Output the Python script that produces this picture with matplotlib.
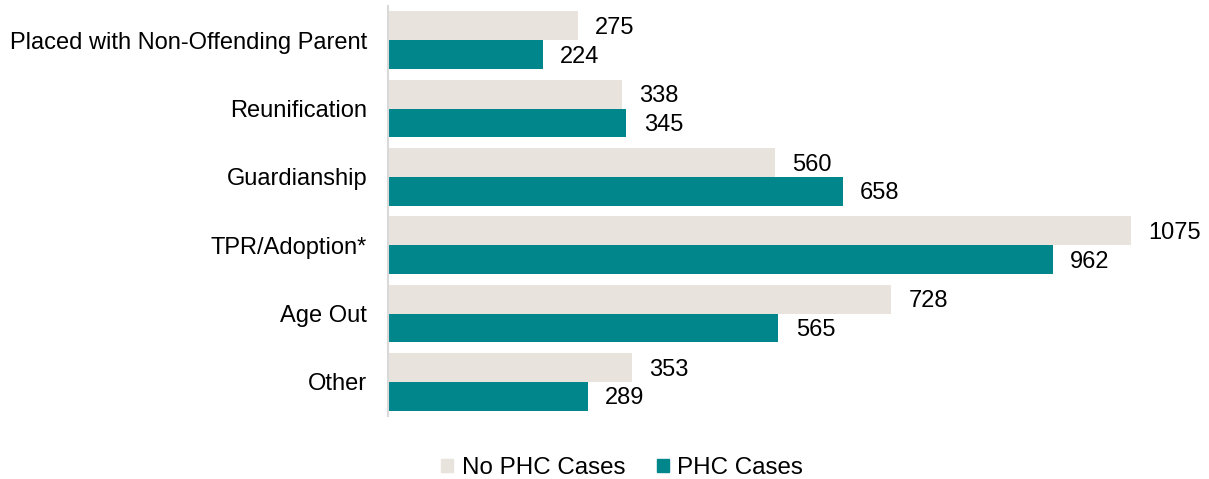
import matplotlib
matplotlib.use("Agg")
import matplotlib.pyplot as plt
from matplotlib.patches import Patch

categories = ["Placed with Non-Offending Parent", "Reunification", "Guardianship",
              "TPR/Adoption*", "Age Out", "Other"]
no_phc = [275, 338, 560, 1075, 728, 353]
phc = [224, 345, 658, 962, 565, 289]
series_names = ["No PHC Cases", "PHC Cases"]

c_no = "#E8E4DD"
c_phc = "#00868B"

plt.rcParams['font.family'] = ['Liberation Sans', 'DejaVu Sans']

fig = plt.figure(figsize=(12.09, 4.79), dpi=100)
ax = fig.add_axes([388/1209, 1-416/479, (1200-388)/1209, 410/479])

h = 0.42
ys = list(range(len(categories)))
ax.barh([y - h/2 for y in ys], no_phc, height=h, color=c_no)
ax.barh([y + h/2 for y in ys], phc, height=h, color=c_phc)

for y, v in zip(ys, no_phc):
    ax.text(v + 25, y - h/2 + 0.03, str(v), va='center', ha='left', fontsize=17, color='black')
for y, v in zip(ys, phc):
    ax.text(v + 25, y + h/2 + 0.03, str(v), va='center', ha='left', fontsize=17, color='black')

ax.set_xlim(0, (1200-388)/0.691)
ax.set_ylim(5.5, -0.5)
ax.set_yticks(ys)
ax.set_yticklabels(categories, fontsize=17)
ax.tick_params(axis='y', length=0, pad=15)
ax.set_xticks([])
for s in ['top', 'right', 'bottom']:
    ax.spines[s].set_visible(False)
ax.spines['left'].set_color('#D9D9D9')
ax.spines['left'].set_linewidth(1.5)

handles = [Patch(color=c_no), Patch(color=c_phc)]
fig.legend(handles, series_names, loc='center', bbox_to_anchor=(622/1209, 1-468/479),
           ncol=2, frameon=False, fontsize=17.4, handlelength=0.5, handleheight=0.5,
           handletextpad=0.35, columnspacing=1.3)

fig.savefig("out.png", dpi=100)
